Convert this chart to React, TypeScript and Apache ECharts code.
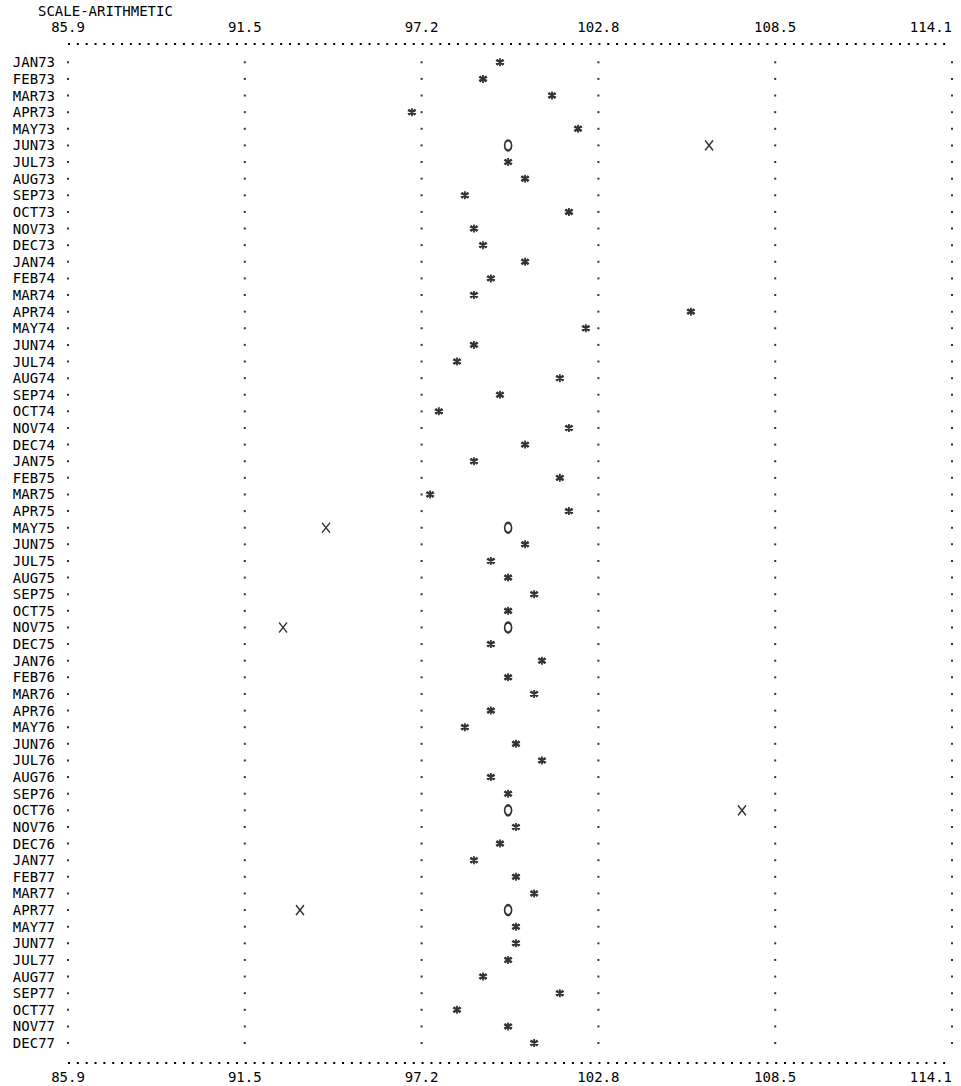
import React, { useEffect, useRef } from "react";
import * as echarts from "echarts";

const TITLE = "SCALE-ARITHMETIC";
const MONTHS = [
  "JAN73", "FEB73", "MAR73", "APR73", "MAY73", "JUN73", "JUL73", "AUG73", "SEP73", "OCT73", "NOV73", "DEC73",
  "JAN74", "FEB74", "MAR74", "APR74", "MAY74", "JUN74", "JUL74", "AUG74", "SEP74", "OCT74", "NOV74", "DEC74",
  "JAN75", "FEB75", "MAR75", "APR75", "MAY75", "JUN75", "JUL75", "AUG75", "SEP75", "OCT75", "NOV75", "DEC75",
  "JAN76", "FEB76", "MAR76", "APR76", "MAY76", "JUN76", "JUL76", "AUG76", "SEP76", "OCT76", "NOV76", "DEC76",
  "JAN77", "FEB77", "MAR77", "APR77", "MAY77", "JUN77", "JUL77", "AUG77", "SEP77", "OCT77", "NOV77", "DEC77",
];
const TICKS = [85.9, 91.54, 97.18, 102.82, 108.46, 114.1];

// "*" points (null where the row has no star)
const STAR = [
  99.68, 99.14, 101.34, 96.87, 102.17, null, 99.94, 100.48, 98.56, 101.88, 98.85, 99.14,
  100.48, 99.39, 98.85, 105.77, 102.42, 98.85, 98.31, 101.59, 99.68, 97.73, 101.88, 100.48,
  98.85, 101.59, 97.45, 101.88, null, 100.48, 99.39, 99.94, 100.77, 99.94, null, 99.39,
  101.02, 99.94, 100.77, 99.39, 98.56, 100.19, 101.02, 99.39, 99.94, null, 100.19, 99.68,
  98.85, 100.19, 100.77, null, 100.19, 100.19, 99.94, 99.14, 101.59, 98.31, 99.94, 100.77,
];
// "O" points
const O_MONTHS = ["JUN73", "MAY75", "NOV75", "OCT76", "APR77"];
const O_VALUES = [99.94, 99.94, 99.94, 99.94, 99.94];
// "X" points
const X_MONTHS = ["JUN73", "MAY75", "NOV75", "OCT76", "APR77"];
const X_VALUES = [106.35, 94.13, 92.76, 107.4, 93.3];

const FONT = "DejaVu Sans Mono";
const INK = "#000";
const ROW_IDX = MONTHS.map((_, i) => i);

export default function App() {
  const ref = useRef<HTMLDivElement>(null);
  useEffect(() => {
    document.body.style.margin = "0";
    const chart = echarts.init(ref.current!, null, { renderer: "svg" });
    const gridDots: number[][] = [];
    TICKS.forEach((t) => MONTHS.forEach((_, i) => gridDots.push([t, i])));
    const starData = STAR.map((v, i) => (v == null ? null : [v, i])).filter(Boolean);
    const oData = O_MONTHS.map((m, i) => [O_VALUES[i], MONTHS.indexOf(m)]);
    const xData = X_MONTHS.map((m, i) => [X_VALUES[i], MONTHS.indexOf(m)]);

    const xAxisBase = {
      type: "value",
      min: 85.9,
      max: 114.1,
      axisTick: { show: false },
      splitLine: { show: false },
      axisLine: {
        show: true,
        onZero: false,
        lineStyle: { color: INK, width: 2, type: [2, 6.84], cap: "butt" },
      },
    };
    const labelBase = {
      customValues: TICKS,
      formatter: (v: number) => v.toFixed(1),
      fontFamily: FONT,
      fontSize: 14,
      color: INK,
      alignMaxLabel: "right",
    };

    chart.setOption({
      animation: false,
      backgroundColor: "#fff",
      title: {
        text: TITLE,
        left: 38,
        top: 4,
        padding: 0,
        textStyle: { fontFamily: FONT, fontSize: 14, fontWeight: "normal", color: INK },
      },
      grid: { left: 68, right: 9, top: 44, bottom: 23 },
      xAxis: [
        { ...xAxisBase, position: "top", axisLabel: { ...labelBase, margin: 10 } },
        { ...xAxisBase, position: "bottom", axisLabel: { ...labelBase, margin: 7 } },
      ],
      yAxis: {
        type: "value",
        inverse: true,
        min: -1.1,
        max: 60.2,
        axisLine: { show: false },
        axisTick: { show: false },
        splitLine: { show: false },
        axisLabel: {
          customValues: ROW_IDX,
          margin: 13,
          fontFamily: FONT,
          fontSize: 14,
          color: INK,
          formatter: (v: number) => MONTHS[Math.round(v)] ?? "",
        },
      },
      series: [
        {
          type: "scatter",
          name: "grid",
          data: gridDots,
          symbol: "rect",
          symbolSize: 2,
          itemStyle: { color: INK },
          silent: true,
        },
        {
          type: "scatter",
          name: "*",
          data: starData,
          symbol: "path://M5,0L5,10M0.7,2.5L9.3,7.5M0.7,7.5L9.3,2.5M1.5,1.5L8.5,8.5M1.5,8.5L8.5,1.5",
          symbolSize: 8,
          itemStyle: { color: "none", borderColor: INK, borderWidth: 1.8 },
        },
        {
          type: "scatter",
          name: "O",
          data: oData,
          symbol: "emptyCircle",
          symbolSize: [7, 10],
          itemStyle: { color: INK, borderColor: INK, borderWidth: 1.6 },
        },
        {
          type: "scatter",
          name: "X",
          data: xData,
          symbol: "path://M0,0L8,10M0,10L8,0",
          symbolSize: [8, 10],
          itemStyle: { color: "none", borderColor: INK, borderWidth: 1.5 },
        },
      ],
    });
    return () => chart.dispose();
  }, []);
  return <div ref={ref} style={{ width: 961, height: 1086 }} />;
}
